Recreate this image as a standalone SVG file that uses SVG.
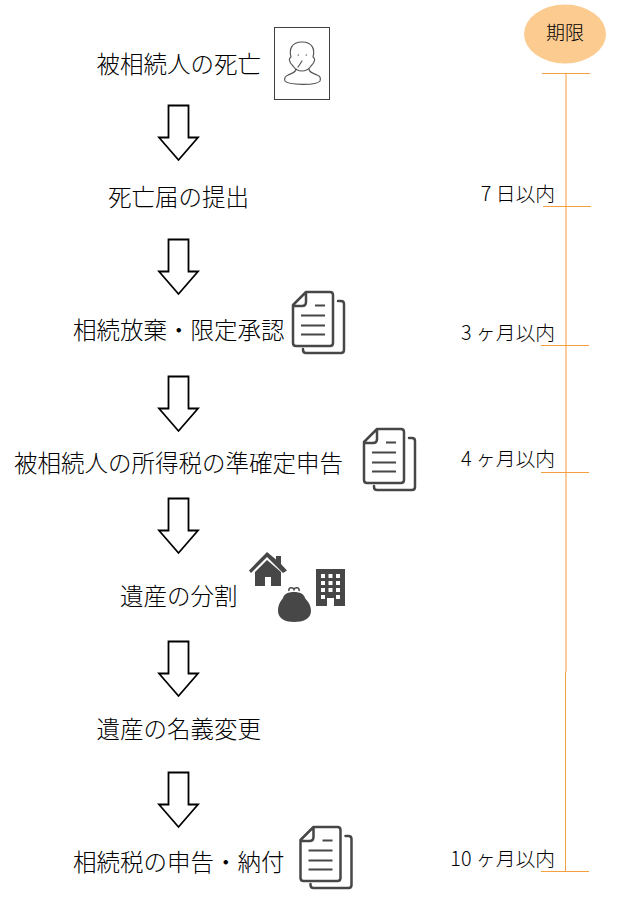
<svg xmlns="http://www.w3.org/2000/svg" width="644" height="916" viewBox="0 0 644 916">
<style>
text{font-family:"Noto Sans CJK JP","Noto Sans",sans-serif;fill:#000;font-weight:300}
.m{font-size:23.5px}
.d{font-size:19.8px;text-anchor:end}
.tick{stroke:#f5a040;stroke-width:1;fill:none}
.arrow{fill:#fff;stroke:#000;stroke-width:1.800;stroke-linejoin:miter}
.ic{fill:none;stroke:#474747;stroke-width:2.500;stroke-linejoin:round;stroke-linecap:round}
.ln{fill:none;stroke:#474747;stroke-width:1.800}
.sf{fill:#474747}
</style>
<defs>
<path id="arr" class="arrow" d="M168.500 0.500H188.500V32.500H198L178.500 55L159 32.500H168.500Z"/>
<g id="doc">
<path class="ic" d="M306 292H330Q333 292 333 295V343Q333 346 330 346H296Q293 346 293 343V305ZM306 292V302Q306 306 302 306H293"/>
<path class="ic" d="M338 301H341Q344 301 344 304V350Q344 353 341 353H306Q303 353 303 350V349"/>
<path class="ln" d="M315 305.500H325M301 315.500H325M301 325.500H325M301 334.500H325"/>
</g>
</defs>
<g id="connectors">
<path d="M566 73V672" stroke="#fbc88f" stroke-width="1.800" fill="none"/>
<path d="M565.500 672V871" stroke="#f5a040" stroke-width="1" fill="none"/>
<path class="tick" d="M542 73.500H590M543 206.500H591M541 345.500H589M541 472.500H589M541 871.500H589"/>
<use href="#arr" y="105"/>
<use href="#arr" y="239"/>
<use href="#arr" y="376"/>
<use href="#arr" y="498"/>
<use href="#arr" y="641"/>
<use href="#arr" y="772"/>
</g>
<g id="deadline"><ellipse cx="565" cy="34" rx="41" ry="29.500" fill="#fccb90"/><text x="565" y="39.500" font-size="19" text-anchor="middle">期限</text></g>
<g id="n1"><text class="m" x="96.500" y="73">被相続人の死亡</text>
<rect x="274.500" y="27.500" width="55" height="72" fill="#fff" stroke="#404040" stroke-width="1"/>
<g fill="none" stroke="#555" stroke-width="1.200" stroke-linecap="round" stroke-linejoin="round">
<path d="M293 66C288 61 289 58 291 57C289 50 291 42 302 42C313 42 315 50 313 57C315 58 316 61 311 66C309 69 306 71 302 71C298 71 295 69 293 66Z"/>
<path d="M296 69C296 72 293 73 288 75C285 76 284 79 285 81C288 85 316 86 320 81C321 78 320 76 317 75C312 73 309 72 309 69"/>
<path d="M298 67L302 61M298 55H298.600M306 55H306.600"/>
</g></g>
<g id="n2"><text class="m" x="108" y="206">死亡届の提出</text></g>
<g id="n3"><text class="m" x="73" y="339">相続放棄・限定承認</text><use href="#doc"/></g>
<g id="n4"><text class="m" x="14" y="472">被相続人の所得税の準確定申告</text><use href="#doc" x="71" y="137"/></g>
<g id="n5"><text class="m" x="120" y="605">遺産の分割</text>
<path class="sf" d="M267 552L249 570.500L251 573L267 557L283 573L287 570.500L281 564V556H276V559.500Z"/>
<path class="sf" d="M267 560L255 572V586H265V577H271V586H281V572Z"/>
<path class="sf" fill-rule="evenodd" d="M316 569H345V606H334V598H327V606H316ZM321 574v4h4v-4zM328.500 574v4h4v-4zM336 574v4h4v-4zM321 581v4h4v-4zM328.500 581v4h4v-4zM336 581v4h4v-4zM321 588v4h4v-4zM328.500 588v4h4v-4zM336 588v4h4v-4zM321 595v4h4v-4zM336 595v4h4v-4z"/>
<path class="sf" d="M278 611C278 604 281 601 283 598C284 594 288 592 294 592C300 592 304 594 305 598C307 601 311 604 311 611C311 619 303 622 294 622C286 622 278 619 278 611Z"/>
<path fill="none" stroke="#474747" stroke-width="1.500" d="M289 591C288 587 293 587 294 589.500C295 587 300 587 299 591"/>
</g>
<g id="n6"><text class="m" x="96.500" y="738">遺産の名義変更</text></g>
<g id="n7"><text class="m" x="73" y="871">相続税の申告・納付</text><use href="#doc" x="7.500" y="535"/></g>
<g id="d1"><text class="d" x="555" y="201">7 日以内</text></g>
<g id="d2"><text class="d" x="555" y="340">3 ヶ月以内</text></g>
<g id="d3"><text class="d" x="555" y="466">4 ヶ月以内</text></g>
<g id="d4"><text class="d" x="555" y="866">10 ヶ月以内</text></g>
</svg>
